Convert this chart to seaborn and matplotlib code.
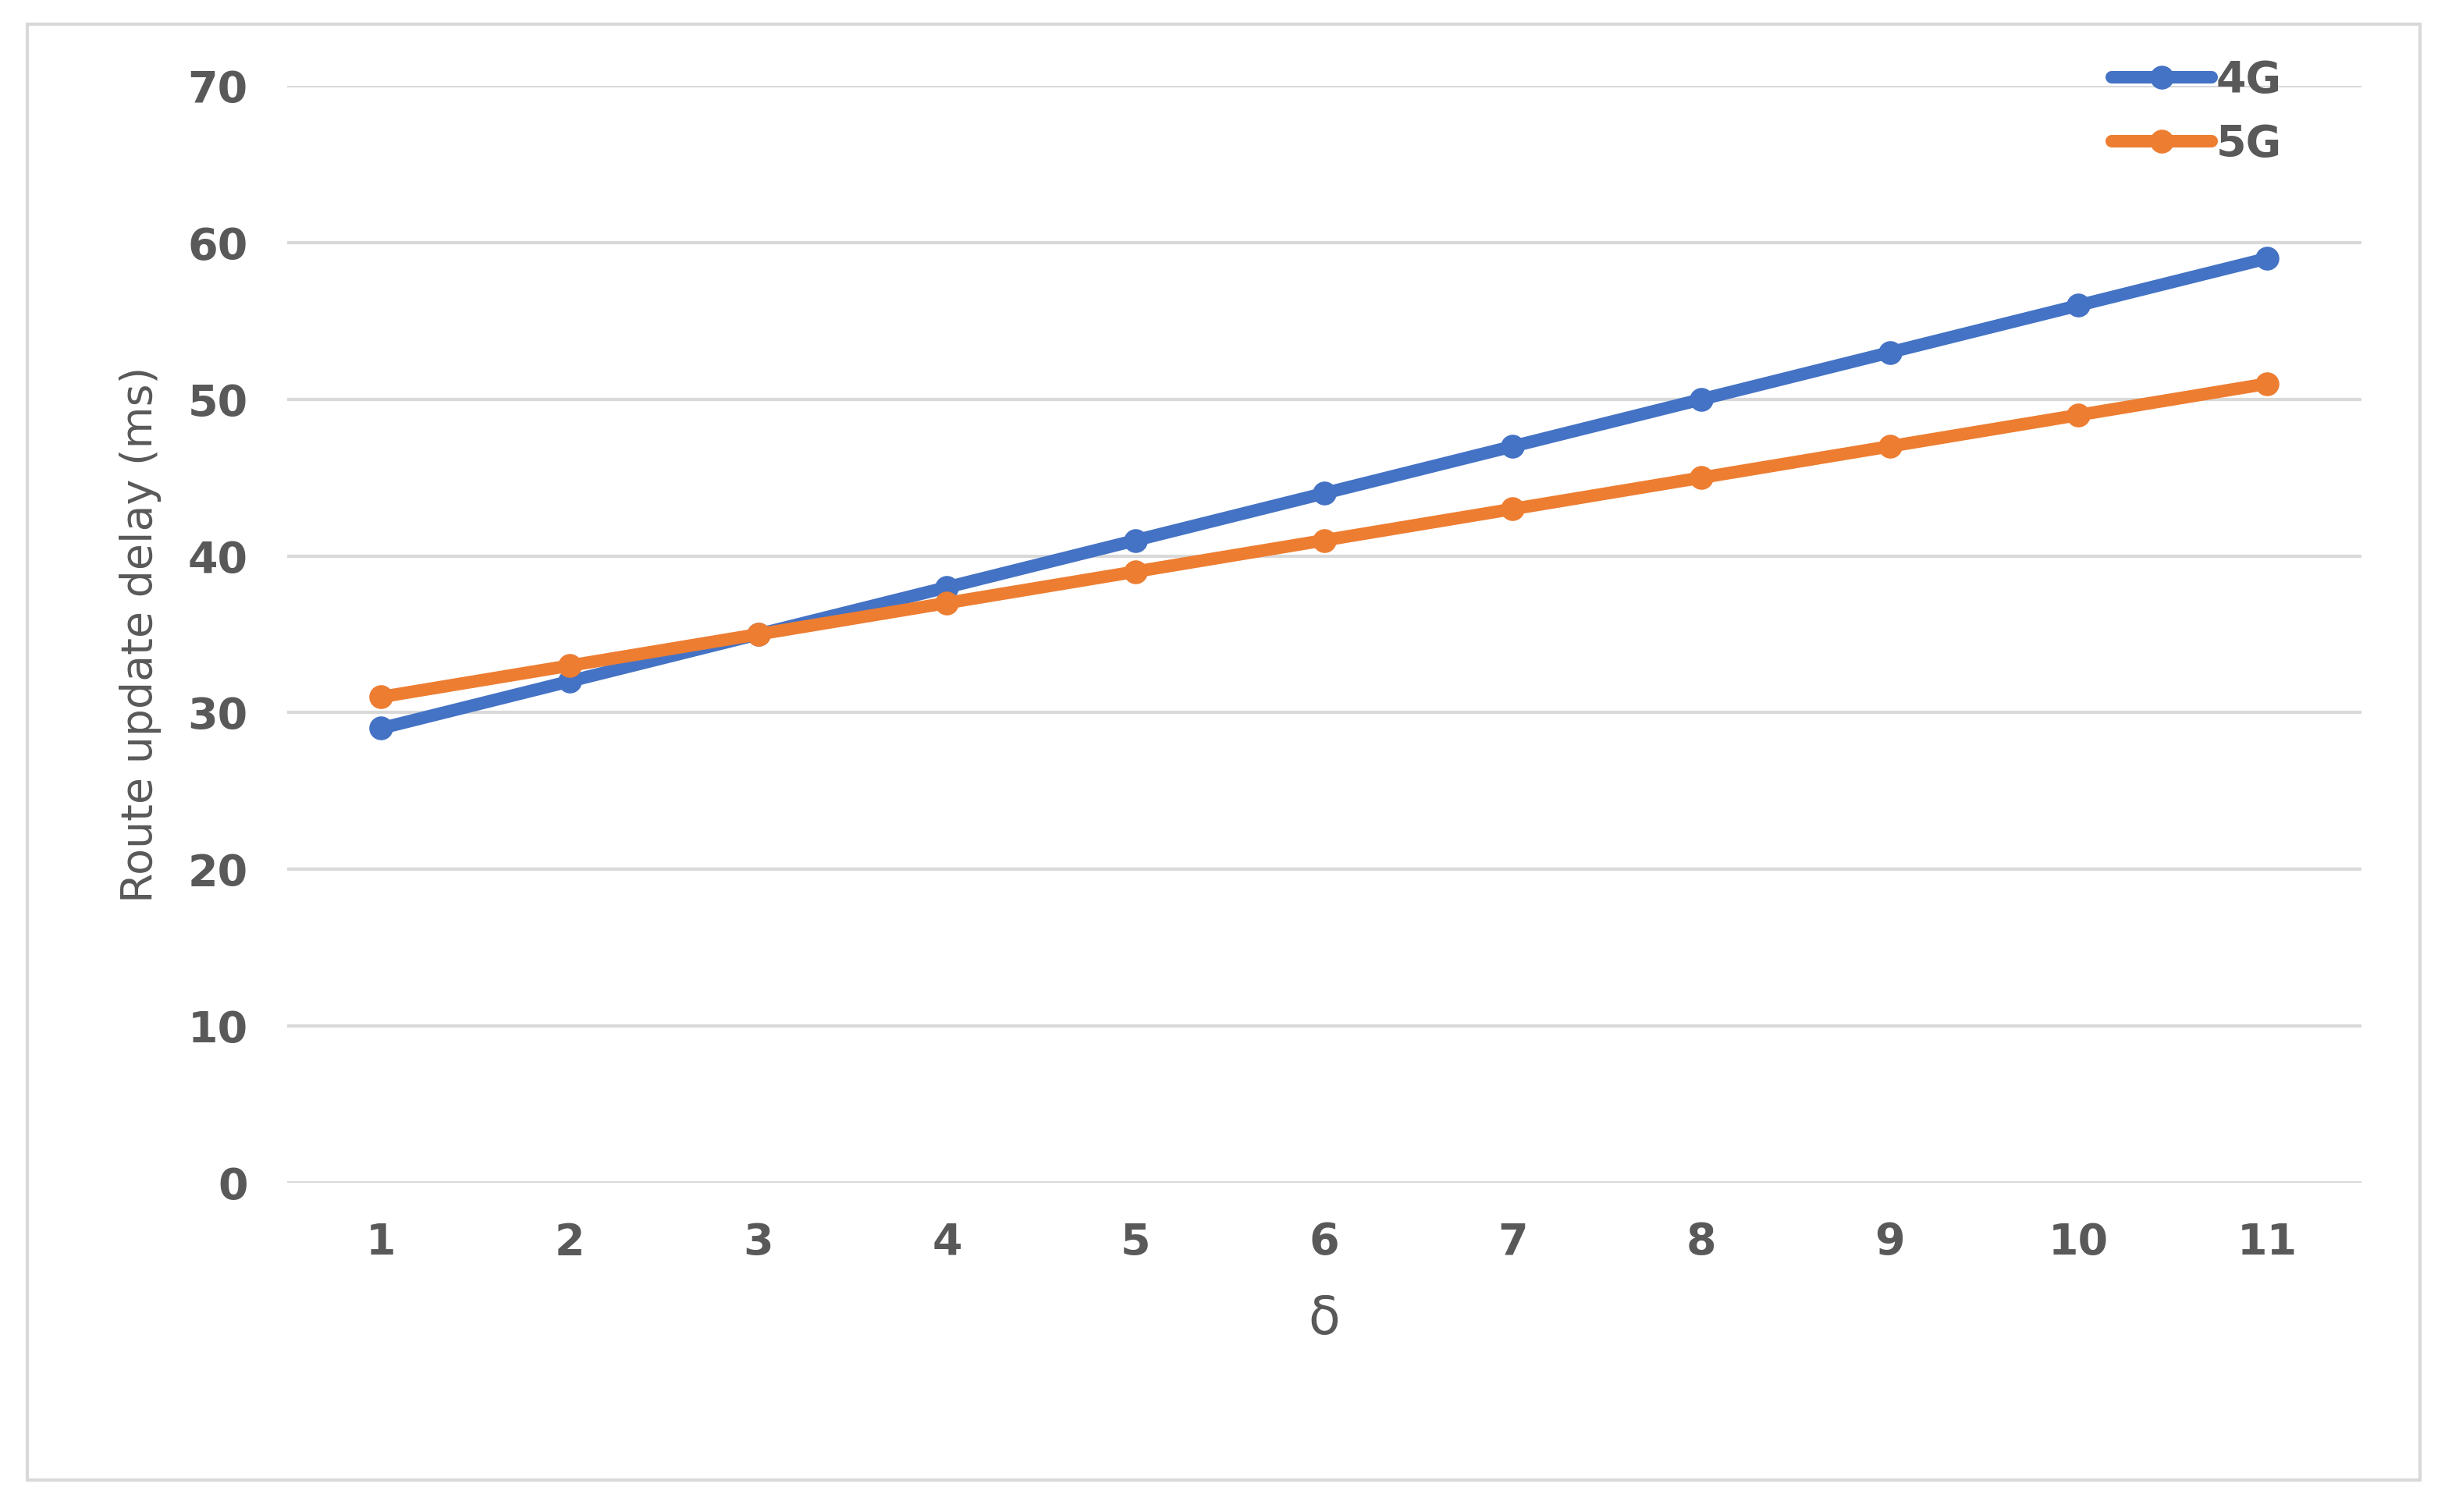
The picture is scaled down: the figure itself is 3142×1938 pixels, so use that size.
import matplotlib
matplotlib.use("Agg")
import matplotlib.pyplot as plt
import seaborn as sns
import pandas as pd
from matplotlib.patches import Rectangle

delta = [1, 2, 3, 4, 5, 6, 7, 8, 9, 10, 11]
g4 = [29, 32, 35, 38, 41, 44, 47, 50, 53, 56, 59]
g5 = [31, 33, 35, 37, 39, 41, 43, 45, 47, 49, 51]

df = pd.DataFrame({"delta": delta * 2, "val": g4 + g5,
                   "series": ["4G"] * len(delta) + ["5G"] * len(delta)})

sns.set_theme(style="white")
plt.rcParams['font.family'] = ['DejaVu Sans']
fig = plt.figure(figsize=(15.71, 9.69), dpi=200)
fig.patches.append(Rectangle((0.011, 0.021), 0.976, 0.963, transform=fig.transFigure,
                             fill=False, edgecolor="#d9d9d9", linewidth=1.5))
ax = fig.add_axes([0.117, 0.218, 0.846, 0.725])
pal = {"4G": "#4472c4", "5G": "#ed7d31"}
sns.lineplot(data=df, x="delta", y="val", hue="series", palette=pal, marker="o",
             markersize=11, linewidth=5.8, markeredgewidth=0, ax=ax)
ax.set_xlim(0.5, 11.5)
ax.set_ylim(0, 70)
ax.set_yticks(range(0, 71, 10))
ax.set_xticks(delta)
ax.grid(axis="y", color="#d9d9d9", linewidth=1.5)
for s in ax.spines.values():
    s.set_visible(False)
ax.tick_params(axis="both", length=0, labelsize=20, labelcolor="#595959", pad=18)
for t in ax.get_xticklabels() + ax.get_yticklabels():
    t.set_fontweight("bold")
ax.set_xlabel("δ", fontsize=24, color="#595959", labelpad=14)
ax.set_ylabel("Route update delay (ms)", fontsize=20, color="#595959", labelpad=12)
leg = ax.legend(loc="upper right", frameon=False, fontsize=20, handlelength=2.3,
                handletextpad=0.1, borderaxespad=0.0, bbox_to_anchor=(0.97, 1.04))
for t in leg.get_texts():
    t.set_fontweight("bold")
    t.set_color("#595959")
fig.savefig("out.png", dpi=200)
